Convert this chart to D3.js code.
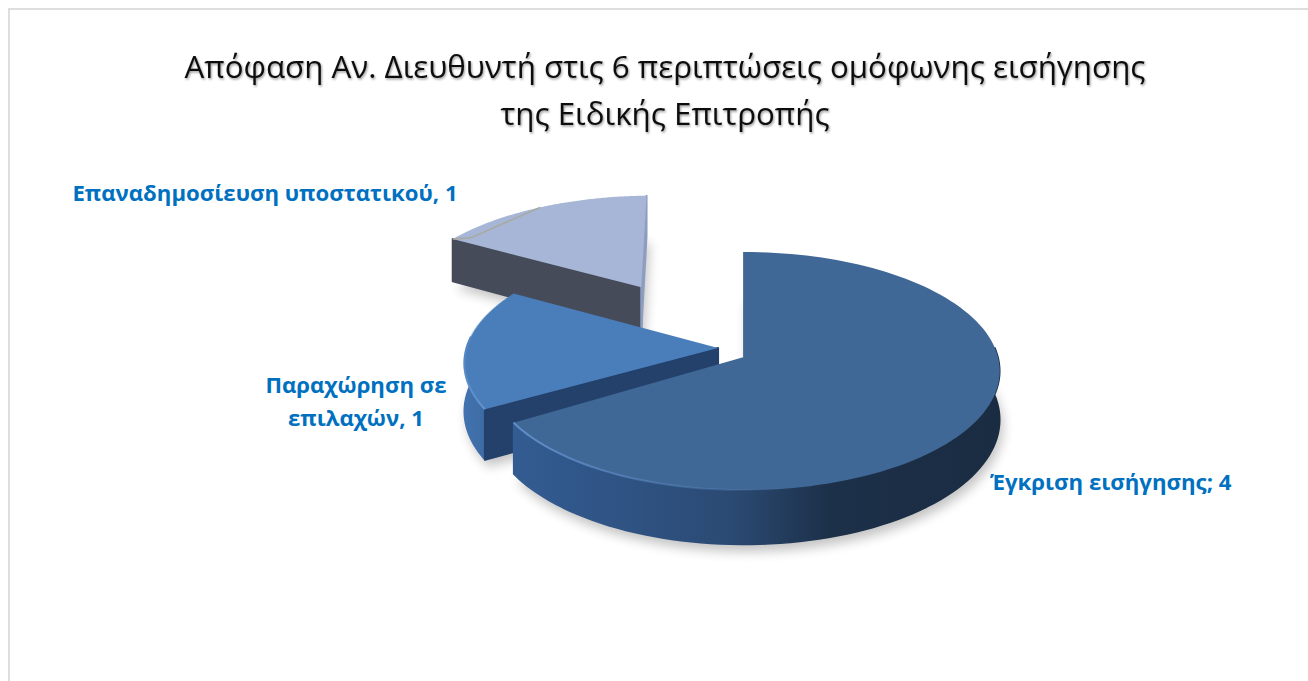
<!DOCTYPE html>
<html>
<head>
<meta charset="utf-8">
<script src="https://cdn.jsdelivr.net/npm/d3@7"></script>
<style>
html, body { margin: 0; padding: 0; background: #fff; overflow: hidden; }
text { font-family: "Open Sans", "Noto Sans", sans-serif; }
</style>
</head>
<body>
<div id="chart"></div>
<script>
const title_lines = ["Απόφαση Αν. Διευθυντή στις 6 περιπτώσεις ομόφωνης εισήγησης", "της Ειδικής Επιτροπής"];
const categories = ["Έγκριση εισήγησης", "Παραχώρηση σε επιλαχών", "Επαναδημοσίευση υποστατικού"];
const values = [4, 1, 1];
const label_lines = [["Έγκριση εισήγησης; 4"], ["Παραχώρηση σε", "επιλαχών, 1"], ["Επαναδημοσίευση υποστατικού, 1"]];

const width = 1308, height = 681;

// Projection of the tilted pie. Back of the disc is foreshortened, as in the original.
const pie_center = {x: 744, y: 357};
const radius_x = 254, radius_y = 117.4, perspective = 0.118, thickness = 48;

// how far each slice is pulled out of the pie, in disc radii
const explode = [[0, 0], [-0.103, -0.077], [-0.435, -0.64]];
// the corners are rounded off in the original, so the arcs stop a little short (radians)
const arc_trim = [0.03, 0, 0.023];

const label_pos = [
	{x: 990, y: 490, anchor: "start"},
	{x: 356, y: 393, anchor: "middle"},
	{x: 265, y: 201, anchor: "middle"},
];

const top_colors = ["#3f6797", "#4a7ebb", "#a7b6d6"];
const side_stops = [
	[[0, "#335c92"], [0.2, "#2f5485"], [0.45, "#2b4a73"], [0.65, "#1c3049"], [1, "#1a2c42"]],
	[[0, "#4273af"], [1, "#3d6ba4"]],
	[[0, "#8d9dc0"], [1, "#8d9dc0"]],
];
const wall_colors = ["#2a4a70", "#23416b", "#454b59"];

function project(u, v, h) {
	const s = 1 / (1 - perspective * v);
	return [pie_center.x + radius_x * u * s, pie_center.y + radius_y * v * s + thickness * h * s];
}
// point on a slice: angle clockwise from 12 o'clock, r in disc radii, h 0 = top 1 = bottom
function slice_point(i, angle, r, h) {
	return project(explode[i][0] + r * Math.sin(angle), explode[i][1] - r * Math.cos(angle), h);
}

const slices = d3.pie().sort(null).value(d => d)(values);
slices.forEach((d, i) => { d.endAngle -= arc_trim[i]; });
const line = d3.line();

function arc_angles(a0, a1) {
	return d3.range(0, 121).map(n => a0 + (a1 - a0) * n / 120);
}
function arc_points(i, angles, h) {
	return angles.map(a => slice_point(i, a, 1, h));
}

const svg = d3.select("#chart").append("svg")
	.attr("width", width)
	.attr("height", height)
	.style("display", "block");

const defs = svg.append("defs");
defs.append("filter").attr("id", "soft")
	.attr("x", "-20%").attr("y", "-20%").attr("width", "140%").attr("height", "140%")
	.append("feGaussianBlur").attr("stdDeviation", 6);
defs.append("filter").attr("id", "edge")
	.append("feGaussianBlur").attr("stdDeviation", 0.5);
defs.append("filter").attr("id", "title_shadow")
	.attr("x", "-5%").attr("y", "-30%").attr("width", "110%").attr("height", "170%")
	.append("feDropShadow")
		.attr("dx", 1).attr("dy", 1.5).attr("stdDeviation", 1.2)
		.attr("flood-color", "#000").attr("flood-opacity", 0.4);

// frame, it runs off the right and bottom of the screenshot
svg.append("path")
	.attr("d", line([[width, 9], [9, 9], [9, height]]))
	.attr("fill", "none")
	.attr("stroke", "#dedede")
	.attr("stroke-width", 2);

// title
svg.append("g").selectAll("text")
	.data(title_lines)
	.join("text")
		.attr("x", 665)
		.attr("y", (d, i) => 78 + i * 47)
		.attr("text-anchor", "middle")
		.attr("font-size", 31.3)
		.attr("fill", "#111")
		.attr("filter", "url(#title_shadow)")
		.text(d => d);

// floor shadows go under everything
const shadow_group = svg.append("g");
const pie_group = svg.append("g");

// painter's order: back slices first
[2, 1, 0].forEach(i => {
	const d = slices[i];
	const a0 = d.startAngle, a1 = d.endAngle;
	const angles = arc_angles(a0, a1);
	const apex_top = slice_point(i, 0, 0, 0), apex_bottom = slice_point(i, 0, 0, 1);
	const top_arc = arc_points(i, angles, 0);
	const bottom_arc = arc_points(i, angles, 1);
	const g = pie_group.append("g");

	shadow_group.append("path")
		.attr("d", line([apex_bottom].concat(bottom_arc)) + "Z")
		.attr("transform", "translate(3,7)")
		.attr("fill", "#000")
		.attr("opacity", 0.24)
		.attr("filter", "url(#soft)");

	// outer side, only the part turned towards us
	const front = angles.filter(a => -Math.cos(a) > -0.1);
	if (front.length > 1) {
		const side_top = arc_points(i, front, 0), side_bottom = arc_points(i, front, 1);
		const grad_id = "side_" + i;
		const grad = defs.append("linearGradient").attr("id", grad_id)
			.attr("gradientUnits", "userSpaceOnUse")
			.attr("x1", d3.min(side_top, p => p[0])).attr("x2", d3.max(side_top, p => p[0]))
			.attr("y1", 0).attr("y2", 0);
		grad.selectAll("stop").data(side_stops[i]).join("stop")
			.attr("offset", s => s[0])
			.attr("stop-color", s => s[1]);
		g.append("path")
			.attr("d", line(side_top.concat(side_bottom.slice().reverse())) + "Z")
			.attr("fill", "url(#" + grad_id + ")")
			.attr("stroke", "url(#" + grad_id + ")")
			.attr("stroke-width", 1.5)
			.attr("stroke-linejoin", "round");
	}

	// cut faces
	[a0, a1].forEach((a, n) => {
		const outer_top = slice_point(i, a, 1, 0), outer_bottom = slice_point(i, a, 1, 1);
		const color = (i == 2 && n == 1) ? "#8d9dc0" : wall_colors[i];
		// the last face of the big slice and of the middle one look away from us
		if (i < 2 && n == 1) return;
		if (i == 0) {
			g.append("path")
				.attr("d", line([apex_top, outer_top]))
				.attr("stroke", color)
				.attr("stroke-width", 1.5)
				.attr("fill", "none");
			return;
		}
		g.append("path")
			.attr("d", line([apex_top, outer_top, outer_bottom, apex_bottom]) + "Z")
			.attr("fill", color)
			.attr("stroke", color)
			.attr("stroke-width", 2)
			.attr("stroke-linejoin", "round");
	});

	// top face
	g.append("path")
		.attr("d", line([apex_top].concat(top_arc)) + "Z")
		.attr("fill", top_colors[i])
		.attr("filter", "url(#edge)");

	// highlight along the rim, fades out to the right
	if (i < 2) {
		const rim_id = "rim_" + i;
		const rim_pts = arc_points(i, angles.filter(a => i == 1 || a > Math.PI * 0.85), 0);
		const rim = defs.append("linearGradient").attr("id", rim_id)
			.attr("gradientUnits", "userSpaceOnUse")
			.attr("x1", i == 0 ? pie_center.x + 40 : 0).attr("x2", i == 0 ? d3.min(rim_pts, p => p[0]) : 0)
			.attr("y1", i == 0 ? 0 : d3.min(rim_pts, p => p[1])).attr("y2", i == 0 ? 0 : d3.max(rim_pts, p => p[1]));
		rim.append("stop").attr("offset", 0).attr("stop-color", "#6a9ad6").attr("stop-opacity", 0);
		rim.append("stop").attr("offset", 1).attr("stop-color", "#6a9ad6").attr("stop-opacity", 0.8);
		g.append("path")
			.attr("d", line(rim_pts))
			.attr("fill", "none")
			.attr("stroke", "url(#" + rim_id + ")")
			.attr("stroke-width", 2)
			.attr("filter", "url(#edge)");
	}
});

// leftover leader line on the small back slice
{
	const d = slices[2];
	const mid = (d.startAngle + d.endAngle) / 2;
	pie_group.append("path")
		.attr("d", line([slice_point(2, mid, 1, 0), slice_point(2, d.startAngle + 0.05, 0.94, 0), slice_point(2, d.startAngle, 1, 0)]))
		.attr("fill", "none")
		.attr("stroke", "#a8a89e")
		.attr("stroke-width", 1.5);
}

// data labels
svg.append("g").selectAll("text")
	.data(label_lines)
	.join("text")
		.attr("text-anchor", (d, i) => label_pos[i].anchor)
		.attr("font-size", 22.2)
		.attr("font-weight", "bold")
		.attr("fill", "#0070c0")
		.each(function(d, i) {
			d3.select(this).selectAll("tspan")
				.data(d)
				.join("tspan")
					.attr("x", label_pos[i].x)
					.attr("y", (t, n) => label_pos[i].y + n * 33)
					.text(t => t);
		});
</script>
</body>
</html>
